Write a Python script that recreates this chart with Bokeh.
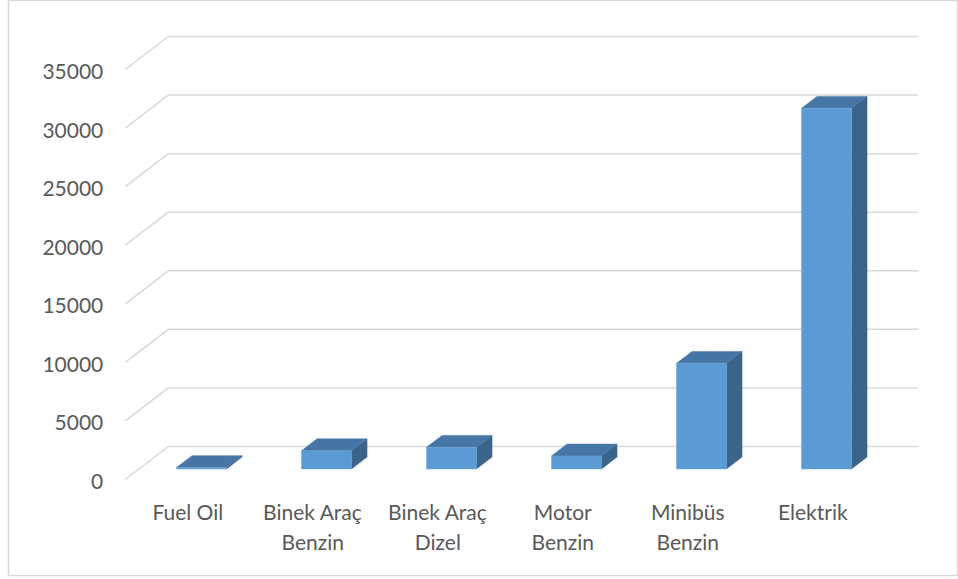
from bokeh.plotting import figure
from bokeh.models import ColumnDataSource, Range1d
from bokeh.core.properties import value
from bokeh.embed import file_html
from bokeh.resources import INLINE

# ---- data ----
categories = ["Fuel Oil", "Binek Araç\nBenzin", "Binek Araç\nDizel", "Motor\nBenzin", "Minibüs\nBenzin", "Elektrik"]
values = [120, 1560, 1850, 1110, 9020, 30790]
y_ticks = [0, 5000, 10000, 15000, 20000, 25000, 30000, 35000]

# ---- layout constants (screen geometry of the pseudo-3D chart) ----
W, H = 958, 579
PX_PER_CAT = 125.0
X0_PX = 124.8            # front-left corner of floor
Y0_PX = 479.0            # front floor level (value 0)
PX_PER_VAL = 410.0 / 35000.0
DEPTH_DX_PX, DEPTH_DY_PX = 43.0, 33.0
BORDER_L, BORDER_B = 8, 4

DX = DEPTH_DX_PX / PX_PER_CAT
DY = DEPTH_DY_PX / PX_PER_VAL
BAR_W = 50.0 / PX_PER_CAT
F0, F1 = 0.318, 0.68     # depth fractions of bar front/back faces

frame_w = W - BORDER_L
frame_h = H - BORDER_B
x_start = (BORDER_L - X0_PX) / PX_PER_CAT
x_end = (W - X0_PX) / PX_PER_CAT
y_end = Y0_PX / PX_PER_VAL
y_start = (Y0_PX - frame_h) / PX_PER_VAL

p = figure(width=W, height=H, output_backend="svg", toolbar_location=None,
           x_axis_type=None, y_axis_type=None,
           x_range=Range1d(x_start, x_end), y_range=Range1d(y_start, y_end),
           min_border_left=BORDER_L, min_border_right=0,
           min_border_top=0, min_border_bottom=BORDER_B)
p.background_fill_color = "white"
p.border_fill_color = "white"
p.outline_line_color = "#D9D9D9"
p.outline_line_width = 1.5

n = len(categories)

def proj(u, v, d):
    return u + d * DX, v + d * DY

# ---- gridlines (side wall diagonal + back wall) ----
gxs, gys = [], []
for t in y_ticks:
    a = proj(0, t, 0)
    b = proj(0, t, 1)
    c = proj(n, t, 1)
    gxs.append([a[0], b[0], c[0]])
    gys.append([a[1], b[1], c[1]])
p.multi_line(gxs, gys, line_color="#D9D9D9", line_width=1.5)

# ---- bars ----
front_x, front_y, top_x, top_y, side_x, side_y = [], [], [], [], [], []
for i, v in enumerate(values):
    x0 = i + 0.5 - BAR_W / 2
    x1 = i + 0.5 + BAR_W / 2
    pts = [proj(x0, 0, F0), proj(x1, 0, F0), proj(x1, v, F0), proj(x0, v, F0)]
    front_x.append([q[0] for q in pts]); front_y.append([q[1] for q in pts])
    pts = [proj(x0, v, F0), proj(x1, v, F0), proj(x1, v, F1), proj(x0, v, F1)]
    top_x.append([q[0] for q in pts]); top_y.append([q[1] for q in pts])
    pts = [proj(x1, 0, F0), proj(x1, 0, F1), proj(x1, v, F1), proj(x1, v, F0)]
    side_x.append([q[0] for q in pts]); side_y.append([q[1] for q in pts])

p.patches(side_x, side_y, fill_color="#3A6489", line_color="#3A6489", line_width=0.5)
p.patches(top_x, top_y, fill_color="#4676A5", line_color="#4676A5", line_width=0.5)
p.patches(front_x, front_y, fill_color="#5B9BD5", line_color="#6FA8DC", line_width=0.5)

# ---- y tick labels ----
ysrc = ColumnDataSource(dict(x=[0] * len(y_ticks), y=y_ticks, t=[str(t) for t in y_ticks]))
p.text(x="x", y="y", text="t", source=ysrc, x_offset=-22, y_offset=2,
       text_align="right", text_baseline="middle",
       text_font=value("Lato"), text_font_size="21px", text_color="#595959")

# ---- x category labels ----
lx, ly, lt, lo = [], [], [], []
for i, c in enumerate(categories):
    for j, line in enumerate(c.split("\n")):
        lx.append(i + 0.5); ly.append(0); lt.append(line); lo.append(32 + 30 * j)
xsrc = ColumnDataSource(dict(x=lx, y=ly, t=lt, o=lo))
p.text(x="x", y="y", text="t", y_offset="o", source=xsrc,
       text_align="center", text_baseline="middle",
       text_font=value("Lato"), text_font_size="21px", text_color="#595959")

open("out.html", "w").write(file_html(p, INLINE))
